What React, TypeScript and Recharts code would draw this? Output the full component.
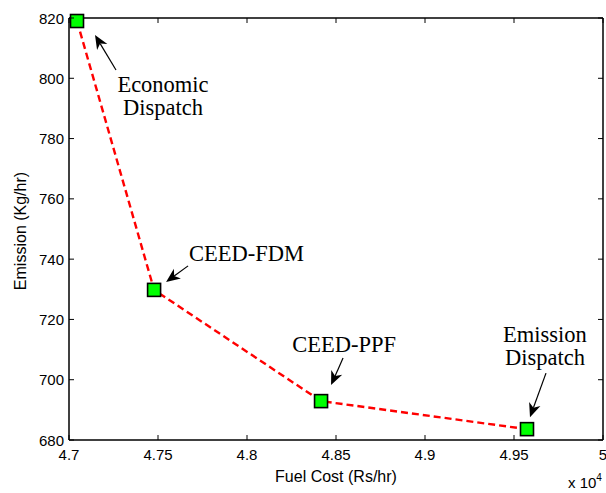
import React from 'react';
import { ComposedChart, Line, XAxis, YAxis, ReferenceLine } from 'recharts';

// ---- data ----
const fuelCost = [47045, 47478, 48416, 49573];
const emission = [819.0, 729.8, 692.9, 683.6];
const pointNames = ['Economic Dispatch', 'CEED-FDM', 'CEED-PPF', 'Emission Dispatch'];
const xTicks = [47000, 47500, 48000, 48500, 49000, 49500, 50000];
const yTicks = [680, 700, 720, 740, 760, 780, 800, 820];

const data = fuelCost.map((c, i) => ({ cost: c, em: emission[i], name: pointNames[i] }));

// ---- annotation layout (pixel offsets from the marker) ----
type Ann = { lines: string[]; tx: number; ty: number; anchor: 'start' | 'middle'; tail: [number, number]; tip: [number, number] };
const annotations: Ann[] = [
  { lines: ['Economic', 'Dispatch'], tx: 86, ty: 71, anchor: 'middle', tail: [39, 49], tip: [18, 14] },
  { lines: ['CEED-FDM'], tx: 35, ty: -29, anchor: 'start', tail: [34, -24], tip: [12, -8] },
  { lines: ['CEED-PPF'], tx: 23, ty: -49, anchor: 'middle', tail: [22, -43], tip: [10, -16] },
  { lines: ['Emission', 'Dispatch'], tx: 18, ty: -87, anchor: 'middle', tail: [19, -56], tip: [3, -12] },
];

const PLOT_TOP = 18;
const PLOT_RIGHT = 603;
const PLOT_LEFT = 69;
const PLOT_BOTTOM = 440;
const SANS = '"Liberation Sans", Arial, sans-serif';
const SERIF = '"Liberation Serif", "Times New Roman", serif';

function Arrow({ x1, y1, x2, y2 }: { x1: number; y1: number; x2: number; y2: number }) {
  const dx = x2 - x1;
  const dy = y2 - y1;
  const len = Math.sqrt(dx * dx + dy * dy) || 1;
  const ux = dx / len;
  const uy = dy / len;
  const nx = -uy;
  const ny = ux;
  const L = 14;
  const W = 6;
  const N = 4;
  const bx = x2 - ux * L;
  const by = y2 - uy * L;
  const pts = [
    [x2, y2],
    [bx + nx * W, by + ny * W],
    [x2 - ux * (L - N), y2 - uy * (L - N)],
    [bx - nx * W, by - ny * W],
  ]
    .map((p) => p.join(','))
    .join(' ');
  return (
    <g>
      <line x1={x1} y1={y1} x2={x2 - ux * (L - N)} y2={y2 - uy * (L - N)} stroke="#000" strokeWidth={1.2} />
      <polygon points={pts} fill="#000" />
    </g>
  );
}

const renderDot = (props: any) => {
  const { cx, cy, index } = props;
  const a = annotations[index];
  return (
    <g key={`dot-${index}`}>
      <rect x={cx - 6.5} y={cy - 6.5} width={13} height={13} fill="#00FF00" stroke="#000" strokeWidth={1.6} />
      {a && (
        <g>
          <Arrow x1={cx + a.tail[0]} y1={cy + a.tail[1]} x2={cx + a.tip[0]} y2={cy + a.tip[1]} />
          <text x={cx + a.tx} y={cy + a.ty} textAnchor={a.anchor} fontFamily={SERIF} fontSize={22.5} fill="#000">
            {a.lines.map((l, k) => (
              <tspan key={k} x={cx + a.tx} dy={k === 0 ? 0 : 23}>
                {l}
              </tspan>
            ))}
          </text>
        </g>
      )}
    </g>
  );
};

const fmtX = (v: number) => String(+(v / 1e4).toFixed(2));

const XTick = (props: any) => {
  const { x, y, payload } = props;
  return (
    <g>
      <line x1={x} y1={PLOT_BOTTOM} x2={x} y2={PLOT_BOTTOM - 5} stroke="#000" strokeWidth={1} />
      <line x1={x} y1={PLOT_TOP} x2={x} y2={PLOT_TOP + 5} stroke="#000" strokeWidth={1} />
      <text x={x} y={y + 20} textAnchor="middle" fontFamily={SANS} fontSize={15} fill="#000">
        {fmtX(payload.value)}
      </text>
    </g>
  );
};

const YTick = (props: any) => {
  const { x, y, payload } = props;
  return (
    <g>
      <line x1={PLOT_LEFT} y1={y} x2={PLOT_LEFT + 5} y2={y} stroke="#000" strokeWidth={1} />
      <line x1={PLOT_RIGHT} y1={y} x2={PLOT_RIGHT - 5} y2={y} stroke="#000" strokeWidth={1} />
      <text x={x - 5} y={y + 5.5} textAnchor="end" fontFamily={SANS} fontSize={15} fill="#000">
        {payload.value}
      </text>
    </g>
  );
};

const XLabel = (props: any) => {
  const vb = props.viewBox || { x: PLOT_LEFT, y: PLOT_BOTTOM, width: PLOT_RIGHT - PLOT_LEFT, height: 53 };
  return (
    <g>
      <text x={vb.x + vb.width / 2} y={vb.y + 42} textAnchor="middle" fontFamily={SANS} fontSize={16} fill="#000">
        Fuel Cost (Rs/hr)
      </text>
      <text x={568} y={488} fontFamily={SANS} fontSize={15} fill="#000">
        x 10
        <tspan fontSize={10} dy={-7}>
          4
        </tspan>
      </text>
    </g>
  );
};

const YLabel = (props: any) => {
  const vb = props.viewBox || { x: 0, y: PLOT_TOP, width: PLOT_LEFT, height: PLOT_BOTTOM - PLOT_TOP };
  const cx = vb.x + 26;
  const cy = vb.y + vb.height / 2 + 2;
  return (
    <text x={cx} y={cy} transform={`rotate(-90 ${cx} ${cy})`} textAnchor="middle" fontFamily={SANS} fontSize={16} fill="#000">
      Emission (Kg/hr)
    </text>
  );
};

export default function App() {
  return (
    <div style={{ position: 'absolute', left: 0, top: 0, width: 606, height: 493, background: '#fff' }}>
      <ComposedChart width={606} height={493} data={data} margin={{ top: PLOT_TOP, right: 606 - PLOT_RIGHT, left: 0, bottom: 0 }}>
        <XAxis
          dataKey="cost"
          type="number"
          domain={[47000, 50000]}
          ticks={xTicks}
          interval={0}
          height={53}
          tickSize={0}
          tickMargin={0}
          tickLine={false}
          axisLine={{ stroke: '#000', strokeWidth: 1.5 }}
          tick={<XTick />}
          label={<XLabel />}
        />
        <YAxis
          dataKey="em"
          type="number"
          domain={[680, 820]}
          ticks={yTicks}
          interval={0}
          width={PLOT_LEFT}
          tickSize={0}
          tickMargin={0}
          tickLine={false}
          axisLine={{ stroke: '#000', strokeWidth: 1.5 }}
          tick={<YTick />}
          label={<YLabel />}
        />
        <ReferenceLine y={820} stroke="#000" strokeWidth={1.5} />
        <ReferenceLine x={50000} stroke="#000" strokeWidth={1.5} />
        <Line
          type="linear"
          dataKey="em"
          stroke="#FF0000"
          strokeWidth={2.4}
          strokeDasharray="7 4"
          dot={renderDot}
          activeDot={false}
          isAnimationActive={false}
        />
      </ComposedChart>
    </div>
  );
}
